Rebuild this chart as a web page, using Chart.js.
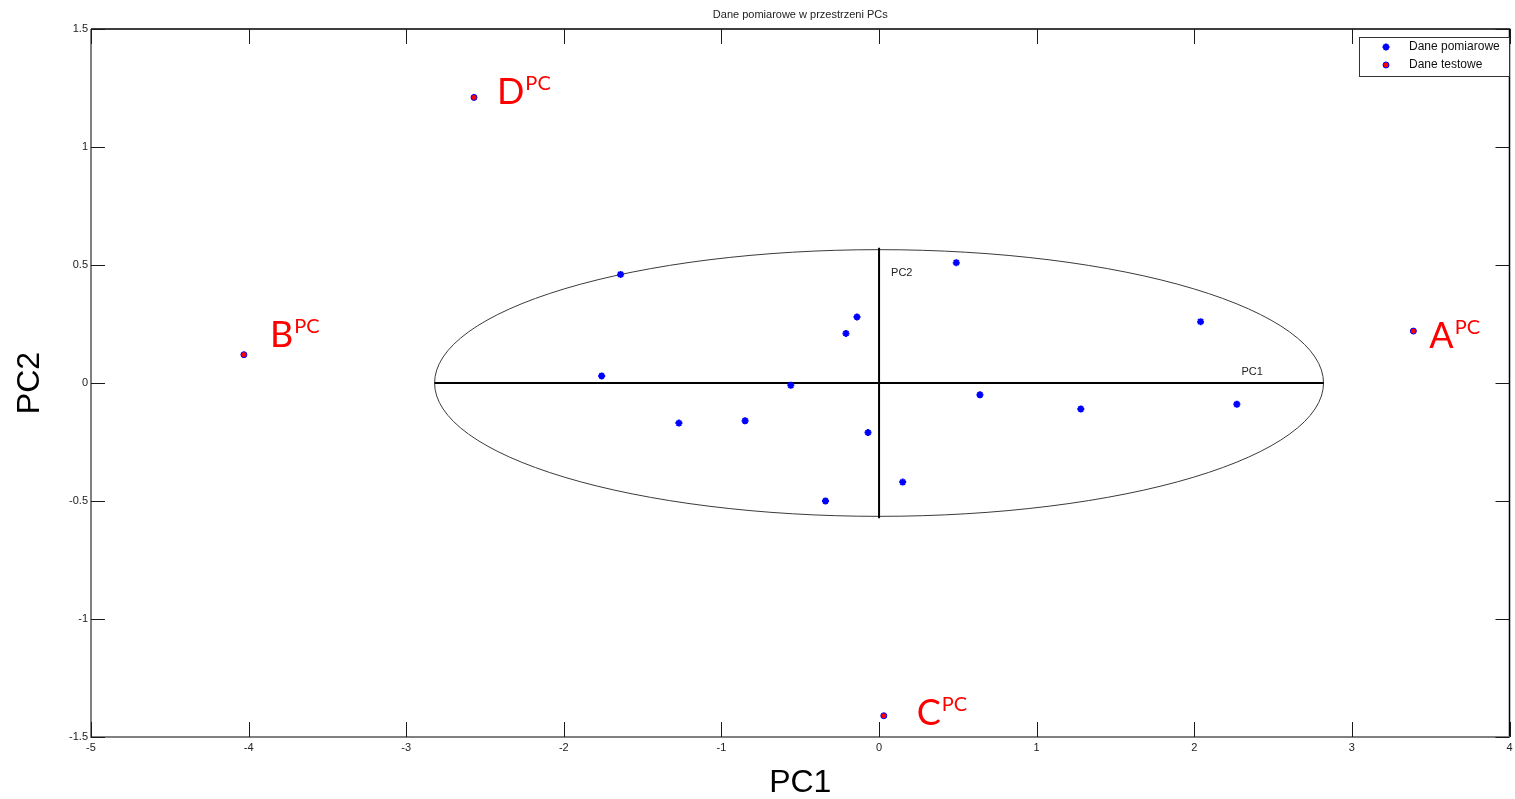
<!DOCTYPE html>
<html><head><meta charset="utf-8">
<script src="https://cdn.jsdelivr.net/npm/chart.js@4"></script>
<style>html,body{margin:0;padding:0;background:#fff}#wrap{width:1515px;height:799px}</style>
</head><body><div id="wrap"><canvas id="c" width="1515" height="799"></canvas></div>
<script>
// ---- data ----
const measuredX = [-1.64, -1.76, -0.56, -0.14, -0.21, -1.27, -0.85, -0.07, -0.34, 0.15, 0.49, 0.64, 1.28, 2.04, 2.27];
const measuredY = [0.46, 0.03, -0.01, 0.28, 0.21, -0.17, -0.16, -0.21, -0.50, -0.42, 0.51, -0.05, -0.11, 0.26, -0.09];
const testNames = ['A', 'B', 'C', 'D'];
const testX = [3.39, -4.03, 0.03, -2.57];
const testY = [0.22, 0.12, -1.41, 1.21];
const ellipseCenter = [0, 0];
const ellipseRadii = [2.82, 0.565];
const xTickValues = [-5, -4, -3, -2, -1, 0, 1, 2, 3, 4];
const yTickValues = [-1.5, -1, -0.5, 0, 0.5, 1, 1.5];
const seriesNames = ['Dane pomiarowe', 'Dane testowe'];
const titleText = 'Dane pomiarowe w przestrzeni PCs';
const axisNames = ['PC1', 'PC2'];

const measuredPts = measuredX.map((x, i) => ({x, y: measuredY[i]}));
const testPts = testX.map((x, i) => ({x, y: testY[i]}));

const SMALL = '11px "Liberation Sans", Arial, sans-serif';
const labelOffsets = {A: [16, 17], B: [26, -8], C: [33, 9], D: [23, 7]};

const decor = {
  id: 'decor',
  beforeDatasetsDraw(chart) {
    const {ctx, scales: {x, y}} = chart;
    const cx = x.getPixelForValue(ellipseCenter[0]);
    const cy = y.getPixelForValue(ellipseCenter[1]);
    const rx = x.getPixelForValue(ellipseCenter[0] + ellipseRadii[0]) - cx;
    const ry = cy - y.getPixelForValue(ellipseCenter[1] + ellipseRadii[1]);
    ctx.save();
    ctx.strokeStyle = '#3a3a3a';
    ctx.lineWidth = 1;
    ctx.beginPath();
    ctx.ellipse(cx, cy, rx, ry, 0, 0, Math.PI * 2);
    ctx.stroke();
    ctx.strokeStyle = '#000';
    ctx.lineWidth = 2;
    ctx.beginPath();
    ctx.moveTo(cx - rx, cy); ctx.lineTo(cx + rx, cy);
    ctx.moveTo(cx, cy - ry - 2); ctx.lineTo(cx, cy + ry + 2);
    ctx.stroke();
    ctx.fillStyle = '#222';
    ctx.font = SMALL;
    ctx.textBaseline = 'middle';
    ctx.textAlign = 'left';
    ctx.fillText(axisNames[1], cx + 12, cy - ry + 23);
    ctx.fillText(axisNames[0], cx + rx - 82, cy - 11);
    ctx.restore();
  },
  afterDatasetsDraw(chart) {
    const {ctx, chartArea: a, scales: {x, y}} = chart;
    ctx.save();
    // frame
    ctx.lineWidth = 1.5;
    ctx.strokeStyle = '#000';
    ctx.beginPath();
    ctx.moveTo(a.left, a.top); ctx.lineTo(a.right, a.top); ctx.lineTo(a.right, a.bottom);
    ctx.stroke();
    ctx.strokeStyle = '#808080';
    ctx.lineWidth = 2;
    ctx.beginPath();
    ctx.moveTo(a.left, a.top); ctx.lineTo(a.left, a.bottom); ctx.lineTo(a.right, a.bottom);
    ctx.stroke();
    // inward ticks
    ctx.strokeStyle = '#1a1a1a';
    ctx.lineWidth = 1;
    ctx.beginPath();
    xTickValues.forEach(v => {
      const px = Math.round(x.getPixelForValue(v)) + 0.5;
      ctx.moveTo(px, a.bottom); ctx.lineTo(px, a.bottom - 15);
      ctx.moveTo(px, a.top); ctx.lineTo(px, a.top + 15);
    });
    yTickValues.forEach(v => {
      const py = Math.round(y.getPixelForValue(v)) + 0.5;
      ctx.moveTo(a.left, py); ctx.lineTo(a.left + 14, py);
      ctx.moveTo(a.right, py); ctx.lineTo(a.right - 14, py);
    });
    ctx.stroke();
    // title
    ctx.fillStyle = '#222';
    ctx.font = SMALL;
    ctx.textAlign = 'center';
    ctx.textBaseline = 'middle';
    ctx.fillText(titleText, (a.left + a.right) / 2, 15);
    // legend
    const lx = 1359, ly = 37, lw = 150, lh = 39;
    ctx.fillStyle = '#fff';
    ctx.fillRect(lx, ly, lw, lh);
    ctx.strokeStyle = '#333';
    ctx.lineWidth = 1;
    ctx.strokeRect(lx + 0.5, ly + 0.5, lw, lh);
    chart.data.datasets.forEach((ds, i) => {
      const yy = ly + 10 + i * 18;
      ctx.fillStyle = ds.backgroundColor;
      ctx.strokeStyle = ds.borderColor;
      ctx.lineWidth = ds.borderWidth;
      ctx.beginPath();
      if (ds.pointStyle === 'circle') {
        ctx.arc(lx + 27, yy, ds.pointRadius, 0, Math.PI * 2);
        ctx.fill(); ctx.stroke();
      } else {
        const r = ds.pointRadius;
        for (let k = 0; k < 4; k++) {
          const ang = k * Math.PI / 4;
          ctx.moveTo(lx + 27 - r * Math.cos(ang), yy - r * Math.sin(ang));
          ctx.lineTo(lx + 27 + r * Math.cos(ang), yy + r * Math.sin(ang));
        }
        ctx.stroke();
      }
      ctx.fillStyle = '#111';
      ctx.font = '12px "Liberation Sans", Arial, sans-serif';
      ctx.textAlign = 'left';
      ctx.textBaseline = 'middle';
      ctx.fillText(ds.label, lx + 50, yy);
    });
    // test point labels
    ctx.fillStyle = '#ff0000';
    ctx.textAlign = 'left';
    ctx.textBaseline = 'alphabetic';
    testNames.forEach((n, i) => {
      const px = x.getPixelForValue(testX[i]);
      const py = y.getPixelForValue(testY[i]);
      const [dx, dy] = labelOffsets[n];
      ctx.font = '36px Lato, "Open Sans", sans-serif';
      ctx.fillText(n, px + dx, py + dy);
      const w = ctx.measureText(n).width;
      ctx.font = '20px Lato, "Open Sans", sans-serif';
      ctx.fillText('PC', px + dx + w + 1, py + dy - 14);
    });
    ctx.restore();
  }
};

new Chart(document.getElementById('c'), {
  type: 'scatter',
  data: {
    datasets: [
      {label: seriesNames[0], data: measuredPts, pointStyle: 'star', pointRadius: 3.5, pointHoverRadius: 3.5,
       borderWidth: 2, borderColor: '#0000ff', backgroundColor: '#0000ff'},
      {label: seriesNames[1], data: testPts, pointStyle: 'circle', pointRadius: 3, pointHoverRadius: 3,
       borderWidth: 1, borderColor: '#0000ff', backgroundColor: '#ff0000'}
    ]
  },
  options: {
    responsive: false,
    animation: false,
    devicePixelRatio: 1,
    layout: {padding: {top: 29, right: -2, left: 0, bottom: 0}},
    plugins: {legend: {display: false}, title: {display: false}, tooltip: {enabled: false}},
    scales: {
      x: {
        type: 'linear', min: -5, max: 4,
        afterBuildTicks: s => { s.ticks = xTickValues.map(v => ({value: v})); },
        afterFit: s => { s.height = 62; s.paddingLeft = 0; s.paddingRight = 0; },
        grid: {display: false, drawTicks: false},
        border: {display: false},
        ticks: {padding: 4, color: '#222', callback: v => String(v),
                font: {family: '"Liberation Sans", Arial, sans-serif', size: 11}},
        title: {display: true, text: axisNames[0], color: '#000', padding: {top: 0, bottom: 0},
                font: {family: '"Liberation Sans", Arial, sans-serif', size: 32, lineHeight: 1}}
      },
      y: {
        type: 'linear', min: -1.5, max: 1.5,
        afterBuildTicks: s => { s.ticks = yTickValues.map(v => ({value: v})); },
        afterFit: s => { s.width = 91; s.paddingTop = 0; s.paddingBottom = 0; },
        grid: {display: false, drawTicks: false},
        border: {display: false},
        ticks: {padding: 3, color: '#222', callback: v => String(v),
                font: {family: '"Liberation Sans", Arial, sans-serif', size: 11}},
        title: {display: true, text: axisNames[1], color: '#000', padding: {top: 14, bottom: 0},
                font: {family: '"Liberation Sans", Arial, sans-serif', size: 32, lineHeight: 1}}
      }
    }
  },
  plugins: [decor]
});
</script></body></html>
